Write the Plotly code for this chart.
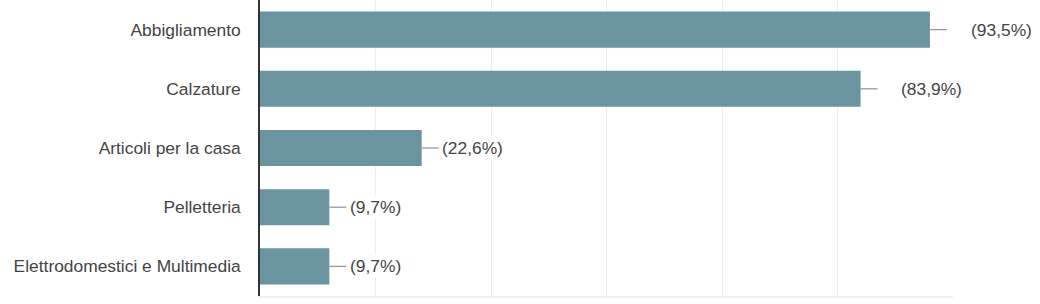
import plotly.graph_objects as go

categories = ["Abbigliamento", "Calzature", "Articoli per la casa", "Pelletteria",
              "Elettrodomestici e Multimedia"]
counts = [29, 26, 7, 3, 3]
pct_labels = ["(93,5%)", "(83,9%)", "(22,6%)", "(9,7%)", "(9,7%)"]
label_gap = [25, 24, 4, 5, 5]

BAR = "#6a949f"
TXT = "#444444"
FONT = "Liberation Sans, Arial, sans-serif"
FS = 17.4
LEAD = 17

fig = go.Figure(go.Bar(
    y=categories, x=counts, orientation="h",
    marker=dict(color=BAR, line=dict(width=0)),
    width=0.61, hoverinfo="skip",
))

shapes = []
annotations = []
for i, (c, v, t, g) in enumerate(zip(categories, counts, pct_labels, label_gap)):
    shapes.append(dict(type="line", xref="x", yref="y", xsizemode="pixel", xanchor=v,
                       x0=0, x1=LEAD, y0=i, y1=i,
                       line=dict(color="#999999", width=1.3), layer="above"))
    annotations.append(dict(x=v, y=c, xref="x", yref="y", text=t, showarrow=False,
                            xanchor="left", xshift=LEAD + g - 3, bgcolor="white",
                            font=dict(size=FS, color=TXT, family=FONT)))

fig.update_layout(
    width=1040, height=304,
    margin=dict(l=260, r=87, t=0, b=8),
    paper_bgcolor="white", plot_bgcolor="white",
    showlegend=False,
    shapes=shapes, annotations=annotations,
    font=dict(family=FONT, size=FS, color=TXT),
    bargap=0.39,
)
fig.update_xaxes(range=[0, 30], dtick=5, showticklabels=False, showgrid=True,
                 gridcolor="#ececec", gridwidth=1.3, zeroline=False,
                 showline=True, linecolor="#f0f0f0", linewidth=2, mirror=False)
fig.update_yaxes(autorange="reversed", showline=True, linecolor="#333333", linewidth=1.6,
                 ticks="", ticklabelstandoff=14, showgrid=False,
                 tickfont=dict(size=FS, color=TXT, family=FONT))

fig.write_html("out.html")
